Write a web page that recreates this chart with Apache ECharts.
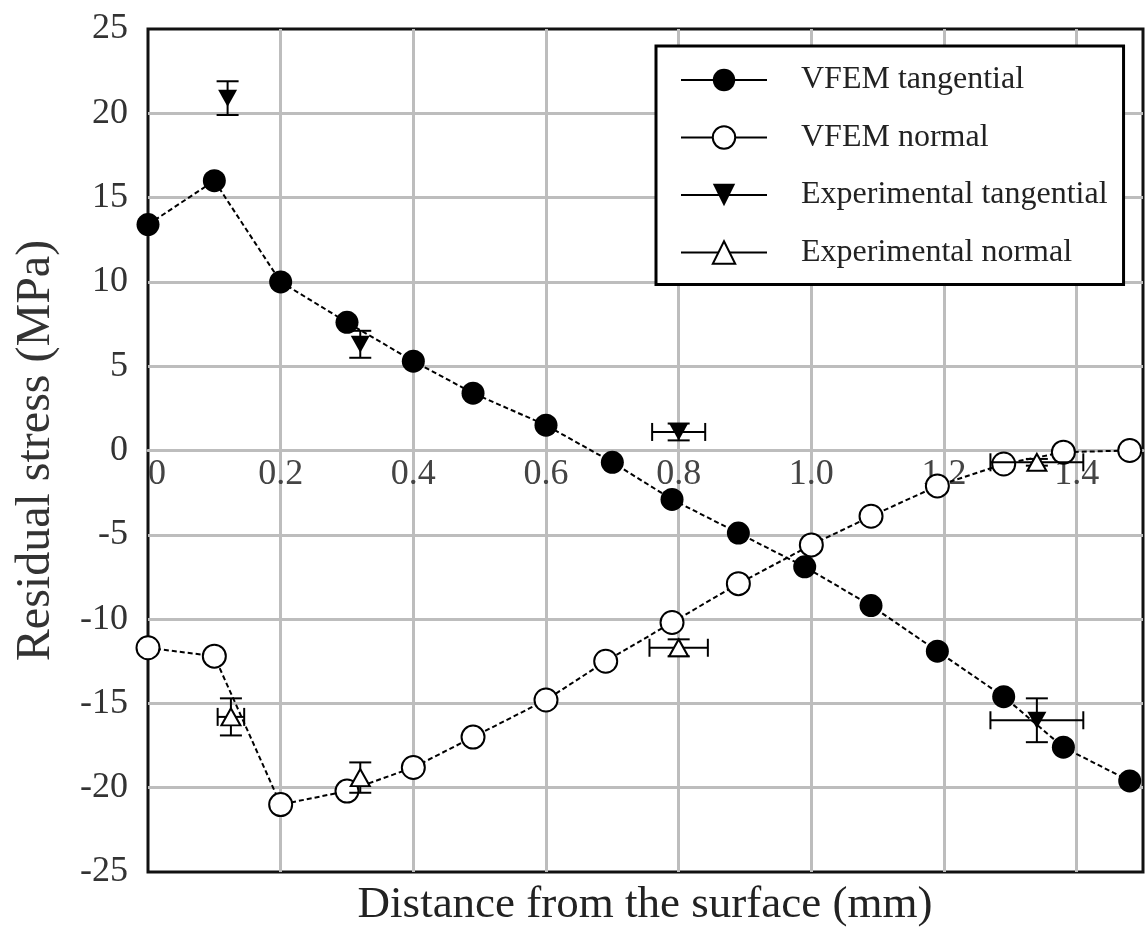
<!DOCTYPE html>
<html>
<head>
<meta charset="utf-8">
<script src="https://cdn.jsdelivr.net/npm/echarts@6/dist/echarts.min.js"></script>
<style>html,body{margin:0;padding:0;background:#fff;}#c{width:1145px;height:952px;}</style>
</head>
<body>
<div id="c"></div>
<script>
// ---- data ----
const vfemTanX = [0, 0.10, 0.20, 0.30, 0.40, 0.49, 0.60, 0.70, 0.79, 0.89, 0.99, 1.09, 1.19, 1.29, 1.38, 1.48];
const vfemTanY = [13.4, 16.0, 10.0, 7.6, 5.3, 3.4, 1.5, -0.7, -2.9, -4.9, -6.9, -9.2, -11.9, -14.6, -17.6, -19.6];
const vfemNorX = [0, 0.10, 0.20, 0.30, 0.40, 0.49, 0.60, 0.69, 0.79, 0.89, 1.00, 1.09, 1.19, 1.29, 1.38, 1.48];
const vfemNorY = [-11.7, -12.2, -21.0, -20.2, -18.8, -17.0, -14.8, -12.5, -10.2, -7.9, -5.6, -3.9, -2.1, -0.8, -0.1, 0.0];
const expTanX = [0.12, 0.32, 0.80, 1.34];
const expTanY = [20.9, 6.3, 1.1, -16.0];
const expTanXErr = [0, 0, 0.04, 0.07];
const expTanYErr = [1.0, 0.8, 0.5, 1.3];
const expNorX = [0.125, 0.32, 0.80, 1.34];
const expNorY = [-15.8, -19.4, -11.7, -0.7];
const expNorXErr = [0.02, 0, 0.044, 0.07];
const expNorYErr = [1.1, 0.9, 0.5, 0.2];
const seriesNames = ['VFEM tangential', 'VFEM normal', 'Experimental tangential', 'Experimental normal'];
const yTicks = {min: -25, max: 25, interval: 5};
const xTicks = {min: 0, max: 1.5, interval: 0.2};

const zip = (xs, ys) => xs.map((x, i) => [x, ys[i]]);
const errData = zip(expTanX, expTanY).map((p, i) => [p[0], p[1], expTanXErr[i], expTanYErr[i]])
  .concat(zip(expNorX, expNorY).map((p, i) => [p[0], p[1], expNorXErr[i], expNorYErr[i]]));

const FONT = 'Liberation Serif';
const GRID = {left: 148, top: 29, right: 2, bottom: 80};
const plotH = 952 - GRID.top - GRID.bottom;
// x axis drawn on the y = 0 line (y range is symmetric about zero)
const zeroOffset = -plotH * (0 - yTicks.min) / (yTicks.max - yTicks.min);

const chart = echarts.init(document.getElementById('c'));
const downTri = 'path://M0,0L20,0L10,17Z';
const upTri = 'path://M10,0L20,17L0,17Z';

chart.setOption({
  animation: false,
  backgroundColor: '#fff',
  grid: Object.assign({show: true, borderColor: '#111', borderWidth: 3, backgroundColor: 'transparent'}, GRID),
  xAxis: {
    type: 'value', min: xTicks.min, max: xTicks.max, interval: xTicks.interval,
    position: 'bottom', offset: zeroOffset,
    axisLine: {show: true, onZero: false, lineStyle: {color: '#bdbdbd', width: 3}},
    axisTick: {show: false},
    splitLine: {show: true, showMinLine: false, showMaxLine: false, lineStyle: {color: '#bdbdbd', width: 3}},
    axisLabel: {
      fontFamily: FONT, fontSize: 36, color: '#444', margin: 6,
      showMaxLabel: false, alignMinLabel: 'left',
      formatter: v => (v > 1.45 ? '' : (v === 0 ? '0' : v.toFixed(1)))
    }
  },
  yAxis: {
    type: 'value', min: yTicks.min, max: yTicks.max, interval: yTicks.interval,
    axisLine: {show: false, onZero: false}, axisTick: {show: false},
    splitLine: {show: true, showMinLine: false, showMaxLine: false, lineStyle: {color: '#bdbdbd', width: 3}},
    axisLabel: {fontFamily: FONT, fontSize: 36, color: '#333', margin: 20},
    name: 'Residual stress (MPa)', nameLocation: 'middle', nameGap: 88,
    nameTextStyle: {fontFamily: FONT, fontSize: 48, color: '#333'}
  },
  legend: {
    orient: 'vertical', left: 656, top: 46,
    padding: [18, 16, 16, 24],
    backgroundColor: '#fff', borderColor: '#000', borderWidth: 3,
    itemWidth: 86, itemHeight: 28, itemGap: 25.5,
    lineStyle: {type: 'solid', width: 2, color: '#000', opacity: 1},
    textStyle: {fontFamily: FONT, fontSize: 32, color: '#222', padding: [0, 0, 0, 29]},
    data: seriesNames
  },
  graphic: [{
    type: 'text', x: 645, y: 905,
    style: {text: 'Distance from the surface (mm)', font: '45px "Liberation Serif"', fill: '#222', textAlign: 'center', textVerticalAlign: 'middle'}
  }],
  series: [
    {
      name: seriesNames[0], type: 'line', data: zip(vfemTanX, vfemTanY),
      symbol: 'circle', symbolSize: 23, z: 3,
      itemStyle: {color: '#000'},
      lineStyle: {color: '#000', width: 2, type: [5, 3]}
    },
    {
      name: seriesNames[1], type: 'line', data: zip(vfemNorX, vfemNorY),
      symbol: 'circle', symbolSize: 23, z: 3,
      itemStyle: {color: '#fff', borderColor: '#000', borderWidth: 2},
      lineStyle: {color: '#000', width: 2, type: [5, 3]}
    },
    {
      name: 'errorbars', type: 'custom', z: 4,
      data: errData,
      renderItem: function (params, api) {
        const x = api.value(0), y = api.value(1), xe = api.value(2), ye = api.value(3);
        const children = [];
        const st = {stroke: '#000', lineWidth: 2};
        if (ye > 0) {
          const t = api.coord([x, y + ye]), b = api.coord([x, y - ye]);
          children.push({type: 'line', shape: {x1: t[0], y1: t[1], x2: b[0], y2: b[1]}, style: st});
          children.push({type: 'line', shape: {x1: t[0] - 11, y1: t[1], x2: t[0] + 11, y2: t[1]}, style: st});
          children.push({type: 'line', shape: {x1: b[0] - 11, y1: b[1], x2: b[0] + 11, y2: b[1]}, style: st});
        }
        if (xe > 0) {
          const l = api.coord([x - xe, y]), r = api.coord([x + xe, y]);
          children.push({type: 'line', shape: {x1: l[0], y1: l[1], x2: r[0], y2: r[1]}, style: st});
          children.push({type: 'line', shape: {x1: l[0], y1: l[1] - 9, x2: l[0], y2: l[1] + 9}, style: st});
          children.push({type: 'line', shape: {x1: r[0], y1: r[1] - 9, x2: r[0], y2: r[1] + 9}, style: st});
        }
        return {type: 'group', children: children};
      }
    },
    {
      name: seriesNames[2], type: 'line', data: zip(expTanX, expTanY),
      symbol: downTri, symbolSize: [19, 17], z: 5,
      itemStyle: {color: '#000'},
      lineStyle: {opacity: 0, width: 0}
    },
    {
      name: seriesNames[3], type: 'line', data: zip(expNorX, expNorY),
      symbol: upTri, symbolSize: [19, 17], z: 5,
      itemStyle: {color: '#fff', borderColor: '#000', borderWidth: 2},
      lineStyle: {opacity: 0, width: 0}
    }
  ]
});
</script>
</body>
</html>
